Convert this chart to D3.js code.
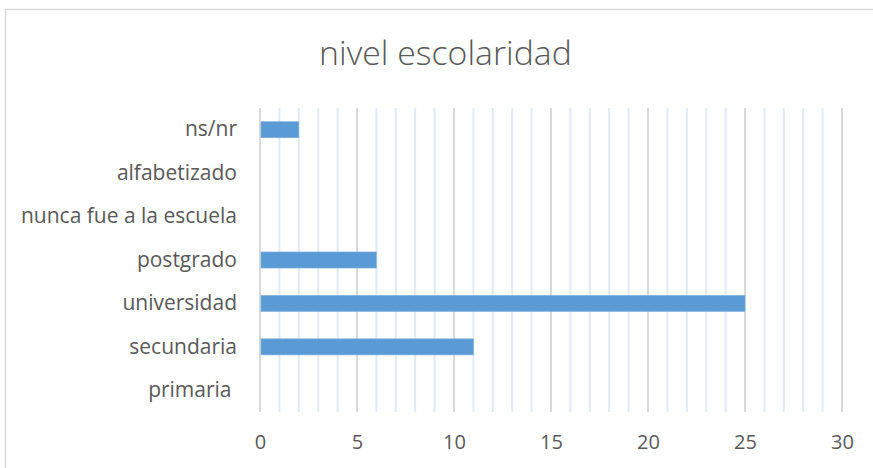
<!DOCTYPE html>
<html>
<head>
<meta charset="utf-8">
<script src="https://cdn.jsdelivr.net/npm/d3@7"></script>
<style>
html,body{margin:0;padding:0;background:#fff;}
svg{display:block;}
text{font-family:"Open Sans",sans-serif;fill:#595959;white-space:pre;}
</style>
</head>
<body>
<svg id="chart" width="873" height="468"></svg>
<script>
const title = "nivel escolaridad";
const categories = ["ns/nr","alfabetizado","nunca fue a la escuela","postgrado","universidad","secundaria","primaria "];
const values = [2,0,0,6,25,11,0];
const xTicks = [0,5,10,15,20,25,30];

(function(){
const svg = d3.select("#chart");
const W = 873, H = 468;
const mLeft = 260, mRight = 842, mTop = 108, mBottom = 412;

// chart border
svg.append("rect").attr("x",5.5).attr("y",9.5).attr("width",W).attr("height",H)
  .attr("fill","#fff").attr("stroke","#d9d9d9").attr("stroke-width",1.5);

const x = d3.scaleLinear().domain([0,30]).range([mLeft,mRight]);
const y = d3.scaleBand().domain(categories).range([mTop,mBottom]).paddingInner(0.63).paddingOuter(0.315);

// gridlines
const grid = svg.append("g");
grid.selectAll("line").data(d3.range(0,31)).join("line")
  .attr("x1",d=>x(d)).attr("x2",d=>x(d)).attr("y1",mTop).attr("y2",mBottom)
  .attr("stroke",d=>d%5===0?"#d9d9d9":"#deeaf6").attr("stroke-width",2);

// bars
svg.append("g").selectAll("rect").data(categories).join("rect")
  .attr("x",x(0)+1).attr("y",d=>y(d))
  .attr("width",(d,i)=>Math.max(0,x(values[i])-x(0)-1))
  .attr("height",y.bandwidth())
  .attr("fill","#5b9bd5").attr("stroke","#7fb0dd").attr("stroke-width",0.6)
  .attr("display",(d,i)=>values[i]>0?null:"none");

// y axis labels
const yAxis = d3.axisLeft(y).tickSize(0).tickPadding(0);
const gy = svg.append("g").attr("transform",`translate(237,0)`).call(yAxis);
gy.select(".domain").remove();
gy.selectAll("text").attr("font-size",21).style("font-family","'Open Sans',sans-serif").attr("fill","#595959");

// x axis labels
const xAxis = d3.axisBottom(x).tickValues(xTicks).tickSize(0).tickPadding(0).tickFormat(d3.format("d"));
const gx = svg.append("g").attr("transform",`translate(0,435)`).call(xAxis);
gx.select(".domain").remove();
gx.selectAll("text").attr("font-size",20).style("font-family","'Open Sans',sans-serif").attr("fill","#595959");

// title
svg.append("text").attr("x",445.5).attr("y",65).attr("text-anchor","middle")
  .attr("font-size",33.8).attr("font-weight",300).text(title);
})();
</script>
</body>
</html>
